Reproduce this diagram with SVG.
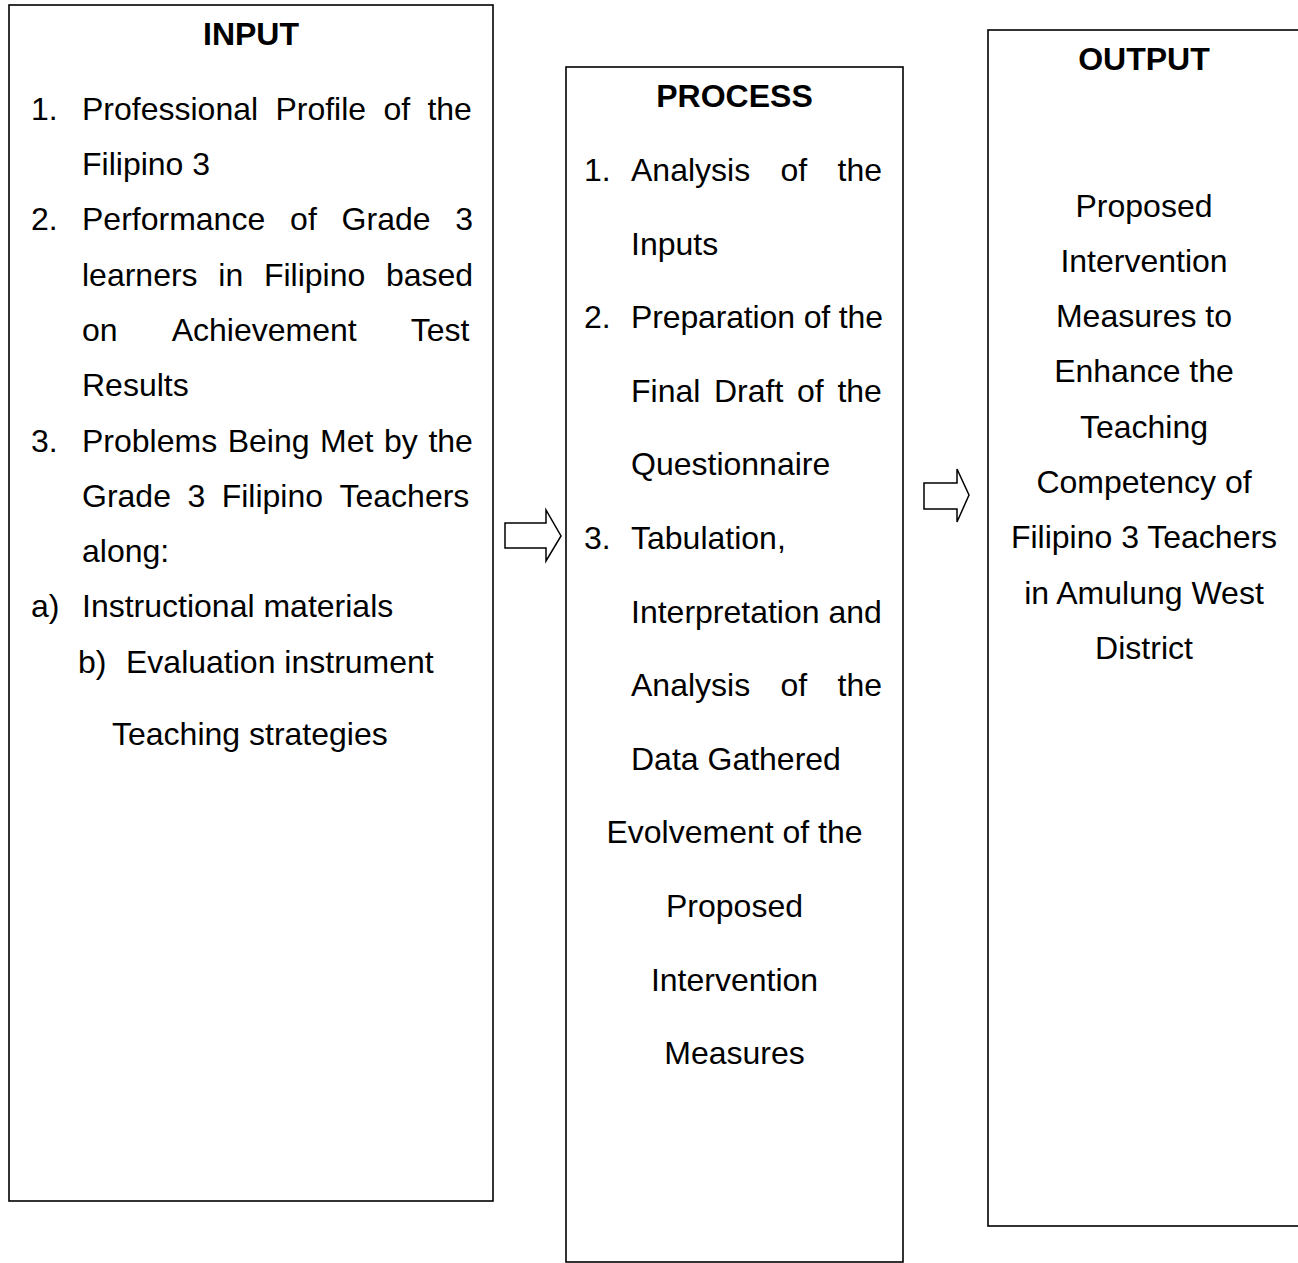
<svg xmlns="http://www.w3.org/2000/svg" width="1298" height="1263" viewBox="0 0 1298 1263">
<style>
.box{fill:#fff;stroke:#000;stroke-width:1.6}
.arr{fill:#fff;stroke:#000;stroke-width:1.5;stroke-linejoin:miter}
text{font-family:"Liberation Sans",Arial,sans-serif;font-size:32px;fill:#000}
.t{font-weight:bold;text-anchor:middle}
.c{text-anchor:middle}
</style>
<rect width="1298" height="1263" fill="#fff"/>
<g id="input">
<rect class="box" x="9" y="5" width="484" height="1196"/>
<text class="t" x="251" y="45">INPUT</text>
<text x="31" y="119.7">1.</text>
<text y="119.7"><tspan x="82">Professional</tspan><tspan x="275.4">Profile</tspan><tspan x="383.4">of</tspan><tspan x="427.4">the</tspan></text>
<text x="82" y="175">Filipino 3</text>
<text x="31" y="230.3">2.</text>
<text y="230.3"><tspan x="82">Performance</tspan><tspan x="290.1">of</tspan><tspan x="341.6">Grade</tspan><tspan x="455.3">3</tspan></text>
<text y="285.6"><tspan x="82">learners</tspan><tspan x="218.3">in</tspan><tspan x="263.9">Filipino</tspan><tspan x="385.9">based</tspan></text>
<text y="340.9"><tspan x="82">on</tspan><tspan x="171.7">Achievement</tspan><tspan x="410.8">Test</tspan></text>
<text x="82" y="396.2">Results</text>
<text x="31" y="451.5">3.</text>
<text y="451.5"><tspan x="82">Problems</tspan><tspan x="227.7">Being</tspan><tspan x="320.1">Met</tspan><tspan x="384">by</tspan><tspan x="428.4">the</tspan></text>
<text y="506.8"><tspan x="82">Grade</tspan><tspan x="187.4">3</tspan><tspan x="221.7">Filipino</tspan><tspan x="339.5">Teachers</tspan></text>
<text x="82" y="562.1">along:</text>
<text x="31" y="617.4">a)</text>
<text x="82" y="617.4">Instructional materials</text>
<text x="78" y="672.7">b)</text>
<text x="126" y="672.7">Evaluation instrument</text>
<text x="112" y="745">Teaching strategies</text>
</g>
<g id="process">
<rect class="box" x="566" y="67" width="337" height="1195"/>
<text class="t" x="734.5" y="107">PROCESS</text>
<text x="584" y="181">1.</text>
<text y="181"><tspan x="631">Analysis</tspan><tspan x="780.5">of</tspan><tspan x="837.5">the</tspan></text>
<text x="631" y="254.6">Inputs</text>
<text x="584" y="328.2">2.</text>
<text x="631" y="328.2" textLength="252" lengthAdjust="spacing">Preparation of the</text>
<text y="401.8"><tspan x="631">Final</tspan><tspan x="714">Draft</tspan><tspan x="797">of</tspan><tspan x="837.4">the</tspan></text>
<text x="631" y="475.4">Questionnaire</text>
<text x="584" y="549">3.</text>
<text x="631" y="549">Tabulation,</text>
<text x="631" y="622.6">Interpretation and</text>
<text y="696.2"><tspan x="631">Analysis</tspan><tspan x="780.5">of</tspan><tspan x="837.5">the</tspan></text>
<text x="631" y="769.8">Data Gathered</text>
<text class="c" x="734.5" y="843.4">Evolvement of the</text>
<text class="c" x="734.5" y="917">Proposed</text>
<text class="c" x="734.5" y="990.6">Intervention</text>
<text class="c" x="734.5" y="1064.2">Measures</text>
</g>
<g id="output">
<rect class="box" x="988" y="30" width="330" height="1196"/>
<text class="t" x="1144" y="70">OUTPUT</text>
<text class="c" x="1144" y="216.5">Proposed</text>
<text class="c" x="1144" y="271.8">Intervention</text>
<text class="c" x="1144" y="327.1">Measures to</text>
<text class="c" x="1144" y="382.4">Enhance the</text>
<text class="c" x="1144" y="437.7">Teaching</text>
<text class="c" x="1144" y="493">Competency of</text>
<text class="c" x="1144" y="548.3">Filipino 3 Teachers</text>
<text class="c" x="1144" y="603.6">in Amulung West</text>
<text class="c" x="1144" y="658.9">District</text>
</g>
<g id="connectors">
<polygon class="arr" points="505,523 546,523 546,510 561,536 546,561 546,548 505,548"/>
<polygon class="arr" points="924,483 957,483 957,469 969,495 957,522 957,509 924,509"/>
</g>
</svg>
